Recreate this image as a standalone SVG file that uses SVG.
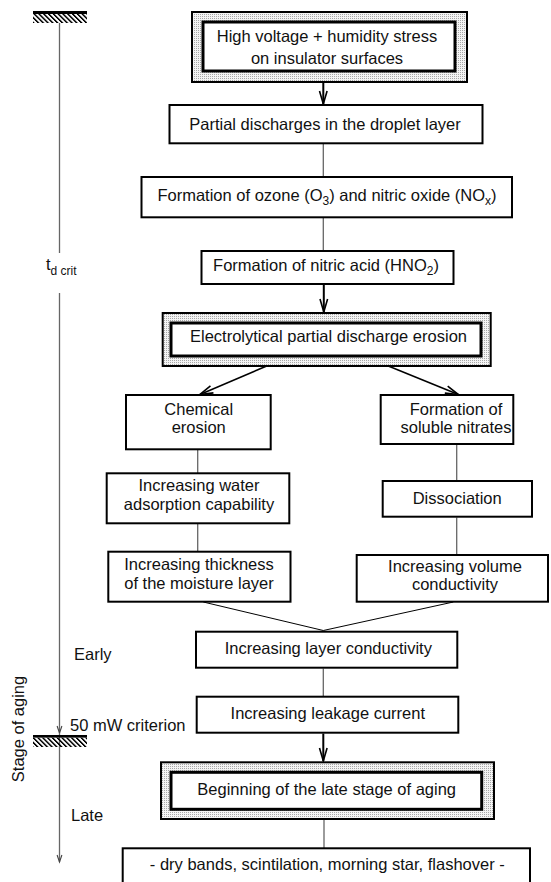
<svg xmlns="http://www.w3.org/2000/svg" width="551" height="882" viewBox="0 0 551 882">
<style>
  text { font-family: "Liberation Sans", Arial, sans-serif; font-size: 16.5px; fill: #111; }
  .c { text-anchor: middle; }
  .sub { font-size: 12px; }
  .box { fill: #fff; stroke: #000; stroke-width: 2; }
  .outer { fill: url(#stip); stroke: #000; stroke-width: 2; }
  .inner { fill: #fff; stroke: #000; stroke-width: 3; }
  .thin { stroke: #666; stroke-width: 1.3; fill: none; }
  .arr { stroke: #000; stroke-width: 2; fill: none; }
  .diag { stroke: #000; stroke-width: 1.5; fill: none; }
  .conv { stroke: #000; stroke-width: 1; fill: none; }
  .axis { stroke: #666; stroke-width: 1.3; fill: none; }
</style>
<defs>
  <pattern id="stip" width="2" height="2" patternUnits="userSpaceOnUse">
    <rect width="2" height="2" fill="#f4f4f4"/>
    <rect width="1" height="1" fill="#a8a8a8"/>
  </pattern>
  <pattern id="hatch" width="4.8" height="12" patternUnits="userSpaceOnUse" patternTransform="skewX(45)">
    <rect width="2.2" height="12" fill="#000"/>
  </pattern>
  <marker id="ah" markerUnits="userSpaceOnUse" markerWidth="30" markerHeight="30" refX="0" refY="0" orient="auto" viewBox="-15 -15 30 30" overflow="visible">
    <path d="M-13,-3.8 L0,0 L-13,3.8" fill="none" stroke="#000" stroke-width="1.6"/>
  </marker>
  <marker id="ahs" markerUnits="userSpaceOnUse" markerWidth="20" markerHeight="20" refX="0" refY="0" orient="auto" viewBox="-10 -10 20 20" overflow="visible">
    <path d="M-7,-2.4 L0,0 L-7,2.4" fill="none" stroke="#444" stroke-width="1.1"/>
  </marker>
</defs>

<g id="axis">
  <line class="axis" x1="59.5" y1="23" x2="59.5" y2="253"/>
  <line class="axis" x1="59.5" y1="293" x2="59.5" y2="733" marker-end="url(#ahs)"/>
  <line class="axis" x1="59.5" y1="733" x2="59.5" y2="862" marker-end="url(#ahs)"/>
  <rect x="33" y="11" width="54" height="3" fill="#000"/>
  <rect x="33" y="14" width="54" height="9" fill="url(#hatch)"/>
  <rect x="33" y="735" width="54" height="2.6" fill="#000"/>
  <rect x="33" y="737.6" width="54" height="9.4" fill="url(#hatch)"/>
  <text x="46" y="270">t<tspan class="sub" font-size="13.5" dy="5">d crit</tspan></text>
  <text x="74" y="660">Early</text>
  <text x="70" y="730.5">50 mW criterion</text>
  <text x="71" y="821">Late</text>
  <text class="c" transform="translate(24,729) rotate(-90)">Stage of aging</text>
</g>

<g id="connectors">
  <line class="arr" x1="323.3" y1="83" x2="323.3" y2="104" marker-end="url(#ah)"/>
  <line class="thin" x1="323.3" y1="144" x2="323.3" y2="176.7"/>
  <line class="thin" x1="323.3" y1="218" x2="323.3" y2="250.7"/>
  <line class="arr" x1="323.8" y1="285" x2="323.8" y2="312" marker-end="url(#ah)"/>
  <line class="diag" x1="266.7" y1="366" x2="200" y2="394.5" marker-end="url(#ah)"/>
  <line class="diag" x1="388.3" y1="366" x2="458.3" y2="394.5" marker-end="url(#ah)"/>
  <line class="thin" x1="197.7" y1="450" x2="197.7" y2="473.3"/>
  <line class="thin" x1="197.7" y1="524" x2="197.7" y2="551.7"/>
  <line class="thin" x1="456.7" y1="445" x2="456.7" y2="481"/>
  <line class="thin" x1="456.7" y1="517.5" x2="456.7" y2="555"/>
  <line class="conv" x1="203.3" y1="602" x2="323.3" y2="630.5"/>
  <line class="conv" x1="453.3" y1="602" x2="323.3" y2="630.5"/>
  <line class="thin" x1="323.3" y1="668.5" x2="323.3" y2="696.7"/>
  <line class="arr" x1="323.3" y1="733.5" x2="323.3" y2="761" marker-end="url(#ah)"/>
  <line class="thin" x1="324" y1="820" x2="324" y2="848.3"/>
</g>

<g id="n1">
  <rect class="outer" x="192" y="12" width="275" height="70"/>
  <rect class="inner" x="203" y="22" width="252" height="49"/>
  <text class="c" x="327" y="42">High voltage + humidity stress</text>
  <text class="c" x="327" y="63.5">on insulator surfaces</text>
</g>
<g id="n2">
  <rect class="box" x="169.5" y="105" width="313" height="38.3"/>
  <text class="c" x="325" y="129.5">Partial discharges in the droplet layer</text>
</g>
<g id="n3">
  <rect class="box" x="141.5" y="177" width="370.5" height="40.3"/>
  <text class="c" x="327" y="201">Formation of ozone (O<tspan class="sub" dy="3.5">3</tspan><tspan dy="-3.5">) and nitric oxide (NO</tspan><tspan class="sub" dy="3.5">x</tspan><tspan dy="-3.5">)</tspan></text>
</g>
<g id="n4">
  <rect class="box" x="201.5" y="251" width="252" height="33"/>
  <text class="c" x="326" y="271">Formation of nitric acid (HNO<tspan class="sub" dy="3.5">2</tspan><tspan dy="-3.5">)</tspan></text>
</g>
<g id="n5">
  <rect class="outer" x="162.7" y="313" width="328" height="53"/>
  <rect class="inner" x="171" y="323" width="310" height="33"/>
  <text class="c" x="328.5" y="342">Electrolytical partial discharge erosion</text>
</g>
<g id="n6">
  <rect class="box" x="126" y="395" width="144.7" height="54.3"/>
  <text class="c" x="198.7" y="415">Chemical</text>
  <text class="c" x="198.7" y="433">erosion</text>
</g>
<g id="n7">
  <rect class="box" x="380.7" y="395" width="132.6" height="49"/>
  <text class="c" x="456" y="415">Formation of</text>
  <text class="c" x="456" y="433">soluble nitrates</text>
</g>
<g id="n8">
  <rect class="box" x="106.7" y="473.3" width="182.6" height="50"/>
  <text class="c" x="199" y="491">Increasing water</text>
  <text class="c" x="199" y="509.5">adsorption capability</text>
</g>
<g id="n9">
  <rect class="box" x="108.3" y="551.7" width="182.2" height="50"/>
  <text class="c" x="199" y="570">Increasing thickness</text>
  <text class="c" x="199" y="588.5">of the moisture layer</text>
</g>
<g id="n10">
  <rect class="box" x="382.7" y="481" width="149.3" height="35.7"/>
  <text class="c" x="457.2" y="503.5">Dissociation</text>
</g>
<g id="n11">
  <rect class="box" x="356.7" y="555" width="191.3" height="46.7"/>
  <text class="c" x="455" y="572">Increasing volume</text>
  <text class="c" x="455" y="589.5">conductivity</text>
</g>
<g id="n12">
  <rect class="box" x="196" y="631.7" width="261.3" height="36"/>
  <text class="c" x="328.3" y="653.5">Increasing layer conductivity</text>
</g>
<g id="n13">
  <rect class="box" x="196.7" y="696.7" width="261.6" height="36"/>
  <text class="c" x="327.8" y="718.5">Increasing leakage current</text>
</g>
<g id="n14">
  <rect class="outer" x="161" y="762.3" width="333" height="56.7"/>
  <rect class="inner" x="171" y="772.3" width="310.7" height="37"/>
  <text class="c" x="326.7" y="795">Beginning of the late stage of aging</text>
</g>
<g id="n15">
  <rect class="box" x="122.7" y="848.3" width="407.3" height="45"/>
  <text class="c" x="327.3" y="870">- dry bands, scintilation, morning star, flashover -</text>
</g>
</svg>
